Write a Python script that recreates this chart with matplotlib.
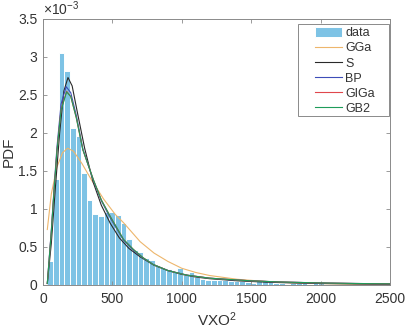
import numpy as np
import matplotlib
matplotlib.use("Agg")
import matplotlib.pyplot as plt
from matplotlib.patches import Rectangle
from matplotlib.ticker import FuncFormatter, MultipleLocator

plt.rcParams['font.family'] = ['Liberation Sans', 'DejaVu Sans']
plt.rcParams['mathtext.fontset'] = 'custom'
plt.rcParams['mathtext.rm'] = 'Liberation Sans'
plt.rcParams['mathtext.it'] = 'Liberation Sans:italic'

# histogram of VXO^2 (pdf values in units of 1e-3)
bin_start = 31
bin_width = 40.7
hist_pdf = [0.31, 1.39, 3.05, 2.81, 2.07, 1.96, 1.47, 1.12, 0.93, 0.91,
            0.96, 0.96, 0.925, 0.81, 0.61, 0.46, 0.44, 0.35, 0.33, 0.25,
            0.22, 0.21, 0.19, 0.23, 0.13, 0.17, 0.11, 0.08, 0.07, 0.066,
            0.066, 0.066, 0.057, 0.057, 0.053, 0.044, 0.03, 0.057, 0.066, 0.066,
            0.03, 0.022, 0.013, 0.022, 0.022, 0.022, 0.015, 0.02, 0.035, 0.015,
            0.01, 0.01, 0.008, 0.006, 0.005, 0.004, 0.004, 0.003, 0.003, 0.002,
            0.002]

# fitted densities (x, pdf*1e3)
gga_x = [31, 60, 100, 140, 178, 220, 280, 350, 437, 520, 580, 700, 800, 900,
         1000, 1100, 1200, 1400, 1600, 1800, 2000, 2250, 2500]
gga_y = [0.73, 1.20, 1.55, 1.74, 1.80, 1.76, 1.60, 1.38, 1.13, 0.93, 0.82, 0.57, 0.42, 0.31,
         0.22, 0.165, 0.125, 0.075, 0.047, 0.03, 0.019, 0.011, 0.007]

s_x = [31, 60, 90, 120, 150, 180, 210, 250, 300, 360, 420, 485, 550, 620, 700,
       800, 900, 1000, 1100, 1200, 1400, 1600, 1800, 2000, 2250, 2500]
s_y = [0.02, 0.55, 1.30, 2.00, 2.55, 2.73, 2.62, 2.25, 1.80, 1.36, 1.05, 0.81, 0.62, 0.48, 0.37,
       0.26, 0.19, 0.14, 0.105, 0.083, 0.055, 0.038, 0.027, 0.02, 0.014, 0.01]

bp_x = [31, 60, 80, 100, 130, 167, 200, 240, 287, 364, 420, 485, 580, 650, 720,
        794, 900, 1036, 1200, 1350, 1500, 1700, 2000, 2250, 2500]
bp_y = [0.02, 0.72, 1.28, 1.80, 2.38, 2.61, 2.53, 2.23, 1.79, 1.37, 1.11, 0.88, 0.59, 0.46, 0.355,
        0.27, 0.19, 0.13, 0.09, 0.07, 0.055, 0.04, 0.027, 0.02, 0.015]

giga_x = [31, 60, 80, 100, 130, 170, 200, 240, 287, 364, 420, 485, 580, 650, 720,
          794, 900, 1036, 1200, 1350, 1500, 1700, 2000, 2250, 2500]
giga_y = [0.02, 0.70, 1.25, 1.76, 2.31, 2.55, 2.48, 2.20, 1.78, 1.38, 1.12, 0.90, 0.60, 0.47, 0.36,
          0.27, 0.19, 0.13, 0.09, 0.072, 0.055, 0.04, 0.027, 0.02, 0.015]

gb2_x = [31, 60, 80, 100, 130, 170, 200, 240, 287, 364, 420, 485, 580, 650, 720,
         794, 900, 1036, 1200, 1350, 1500, 1700, 2000, 2250, 2500]
gb2_y = [0.02, 0.70, 1.25, 1.75, 2.30, 2.54, 2.48, 2.20, 1.78, 1.38, 1.12, 0.90, 0.60, 0.47, 0.36,
         0.27, 0.19, 0.13, 0.09, 0.072, 0.055, 0.04, 0.027, 0.02, 0.015]

fig = plt.figure(figsize=(4.07, 3.29), dpi=100)
ax = fig.add_axes([43 / 407, 44 / 329, 347 / 407, 266 / 329])

scale = 1e-3
centers = bin_start + bin_width * (np.arange(len(hist_pdf)) + 0.5)
h_data = ax.bar(centers, np.array(hist_pdf) * scale, width=bin_width, color='#7EC3E5',
                edgecolor='white', linewidth=0.7, label='data')

ax.plot(gga_x, np.array(gga_y) * scale, color='#EDB66C', lw=0.8, label='GGa')
ax.plot(s_x, np.array(s_y) * scale, color='#2A2A2A', lw=0.8, label='S')
ax.plot(bp_x, np.array(bp_y) * scale, color='#3D4DB8', lw=0.8, label='BP')
ax.plot(giga_x, np.array(giga_y) * scale, color='#E0474C', lw=0.8, label='GIGa')
ax.plot(gb2_x, np.array(gb2_y) * scale, color='#1E9C5A', lw=0.8, label='GB2')

ax.set_xlim(0, 2500)
ax.set_ylim(0, 3.5e-3)
ax.xaxis.set_major_locator(MultipleLocator(500))
ax.yaxis.set_major_locator(MultipleLocator(0.5e-3))
ax.yaxis.set_major_formatter(FuncFormatter(lambda v, p: '%g' % round(v * 1e3, 3)))

axis_gray = '#8A8A8A'
text_gray = '#333333'
for sp in ax.spines.values():
    sp.set_color(axis_gray)
    sp.set_linewidth(0.7)
ax.tick_params(direction='in', length=3, width=0.6, color=axis_gray,
               labelcolor=text_gray, labelsize=10, top=True, right=True)
ax.tick_params(axis='x', pad=5)
ax.tick_params(axis='y', pad=4)

ax.text(0.0, 1.005, r'$\times10^{-3}$', transform=ax.transAxes, fontsize=10,
        color=text_gray, ha='left', va='bottom')

ax.set_xlabel(r'VXO$^2$', fontsize=11, color=text_gray, va='baseline')
ax.xaxis.set_label_coords(0.5, -0.155)
ax.set_ylabel('PDF', fontsize=11, color=text_gray, va='center')
ax.yaxis.set_label_coords(-0.1, 0.5)

# legend: MATLAB-like box with wide padding
handles, labels = ax.get_legend_handles_labels()
order = [labels.index(n) for n in ['data', 'GGa', 'S', 'BP', 'GIGa', 'GB2']]
leg = ax.legend([handles[i] for i in order], [labels[i] for i in order],
                loc='upper left', bbox_to_anchor=((315 - 43) / 347, (285 - 26.5) / 266),
                borderaxespad=0, borderpad=0, fontsize=9, handlelength=2.15,
                handleheight=0.95, handletextpad=0.25, labelspacing=0.2, frameon=False)
for t in leg.get_texts():
    t.set_color(text_gray)
frame = Rectangle(((298 - 43) / 347, (285 - 116) / 266), (389 - 298) / 347, (116 - 24) / 266,
                  transform=ax.transAxes, facecolor='white', edgecolor=axis_gray,
                  linewidth=0.7, zorder=4.9)
ax.add_patch(frame)
leg.set_zorder(5)

fig.savefig('out.png', dpi=100)
